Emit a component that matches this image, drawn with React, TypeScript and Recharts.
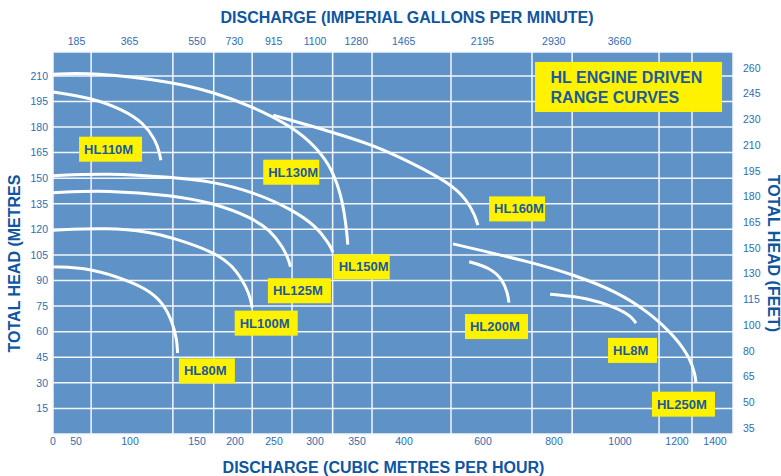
import {
    LineChart,
    Line,
    XAxis,
    YAxis,
    CartesianGrid,
    ReferenceDot,
} from "recharts";

// discharge axis ticks (m3/h) and top axis ticks (imperial gallons per minute)
const BOTTOM_TICKS = [0, 50, 100, 150, 200, 250, 300, 350, 400, 600, 800, 1000, 1200, 1400];
const TOP_TICKS_IGPM = [185, 365, 550, 730, 915, 1100, 1280, 1465, 2195, 2930, 3660];
const GRID_FLOWS = [64, 132, 172, 222, 272, 321, 366, 519, 738, 855, 1137, 1279];

// head in metres (left) and feet labels (right)
const LEFT_TICKS = [15, 30, 45, 60, 75, 90, 105, 120, 135, 150, 165, 180, 195, 210];
const RIGHT_LABELS = [35, 50, 65, 80, 100, 115, 130, 150, 165, 180, 195, 210, 230, 245, 260];

// curves: flow (m3/h) / total head (m)
const HL150M_FLOW = [0, 65, 132, 171, 223, 273, 302, 321, 333, 338, 339];
const HL150M_HEAD = [211, 212, 206.5, 200.5, 192, 180, 168, 155, 137, 118, 111];
const HL110M_FLOW = [0, 65, 94, 110, 119, 122, 123];
const HL110M_HEAD = [200.5, 197, 190, 182.5, 172.5, 165, 160.5];
const HL130M_FLOW = [0, 79, 132, 171, 223, 273, 302, 316, 320, 321];
const HL130M_HEAD = [151.5, 153, 150.5, 148, 142, 131.5, 121.5, 112, 108.5, 106.5];
const HL125M_FLOW = [0, 79, 132, 171, 221, 245, 261, 268, 270];
const HL125M_HEAD = [141.5, 143, 140, 135.5, 127, 119.5, 109.5, 102, 98];
const HL100M_FLOW = [0, 79, 115, 132, 171, 197, 215, 220, 222];
const HL100M_HEAD = [119.5, 121, 118.5, 115, 107, 99, 86, 79, 74];
const HL80M_FLOW = [0, 63, 102, 115, 125, 132, 135, 135.5];
const HL80M_HEAD = [98, 97.5, 89, 83.5, 76.5, 65, 55, 47.5];
const HL160M_FLOW = [249, 321, 367, 415, 517, 560, 580, 587];
const HL160M_HEAD = [187, 177, 169.5, 159.5, 147, 137, 128, 122.5];
const HL250M_FLOW = [524, 732, 858, 991, 1105, 1200, 1270, 1295, 1300];
const HL250M_HEAD = [111.5, 101, 93.5, 83.5, 71, 56, 44, 35, 30];
const HL200M_FLOW = [565, 620, 656, 670, 673];
const HL200M_HEAD = [101, 97.5, 90.5, 82, 77];
const HL8M_FLOW = [789, 900, 991, 1040, 1056];
const HL8M_HEAD = [82, 80, 74, 69, 65];

// model tags: name, flow, head at the tag centre
const TAG_NAMES = ["HL110M", "HL130M", "HL150M", "HL125M", "HL100M", "HL80M", "HL160M", "HL200M", "HL8M", "HL250M"];
const TAG_FLOW = [82, 271, 355, 281, 240, 163, 696, 638, 1044, 1234];
const TAG_HEAD = [167, 153.5, 98, 84, 65, 37, 132, 63, 49, 17.5];
const TAG_WIDTH = [63, 56, 56, 63, 63, 56, 56, 63, 49, 63];

// the printed discharge axis is not linear: tick value -> distance along the axis (px)
const FLOW_KNOTS = [0, 50, 100, 150, 200, 250, 300, 350, 400, 600, 800, 1000, 1200, 1400, 1500];
const AXIS_POS = [0, 23, 77, 144, 182, 221, 262, 304, 351, 430, 501, 567, 624, 662, 681];

const warp = (flow: number) => {
    for (let i = 1; i < FLOW_KNOTS.length; i++) {
        if (flow <= FLOW_KNOTS[i]) {
            const t = (flow - FLOW_KNOTS[i - 1]) / (FLOW_KNOTS[i] - FLOW_KNOTS[i - 1]);
            return AXIS_POS[i - 1] + t * (AXIS_POS[i] - AXIS_POS[i - 1]);
        }
    }
    return AXIS_POS[AXIS_POS.length - 1];
};

const IGPM_PER_M3H = 3.666;

const toPoints = (flow: number[], head: number[]) =>
    flow.map((f, i) => ({ x: warp(f), head: head[i] }));

const series = [
    toPoints(HL150M_FLOW, HL150M_HEAD),
    toPoints(HL110M_FLOW, HL110M_HEAD),
    toPoints(HL130M_FLOW, HL130M_HEAD),
    toPoints(HL125M_FLOW, HL125M_HEAD),
    toPoints(HL100M_FLOW, HL100M_HEAD),
    toPoints(HL80M_FLOW, HL80M_HEAD),
    toPoints(HL160M_FLOW, HL160M_HEAD),
    toPoints(HL250M_FLOW, HL250M_HEAD),
    toPoints(HL200M_FLOW, HL200M_HEAD),
    toPoints(HL8M_FLOW, HL8M_HEAD),
];

// invisible helper data so the top, grid and feet axes get registered
const feetPoints = RIGHT_LABELS.map((_, i) => ({ x: 0, idx: i }));

const FONT = '"Liberation Sans", Arial, sans-serif';
const TITLE_BLUE = "#0f559f";
const TICK_BLUE = "#2e6db3";
const PLOT_BLUE = "#5f93c7";
const YELLOW = "#fff200";

const bottomTicks = BOTTOM_TICKS.map(warp);
const topTicks = TOP_TICKS_IGPM.map((g) => warp(g / IGPM_PER_M3H));
const gridTicks = GRID_FLOWS.map(warp);

const nearest = (ticks: number[], labels: number[], v: number) => {
    let best = 0;
    ticks.forEach((t, i) => {
        if (Math.abs(t - v) < Math.abs(ticks[best] - v)) best = i;
    });
    return String(labels[best]);
};

const tickStyle = { fill: TICK_BLUE, fontSize: 10.5, fontFamily: FONT };
const titleStyle = { fill: TITLE_BLUE, fontSize: 16, fontWeight: 700, fontFamily: FONT };

function Tag(props: any) {
    const { cx, cy, name, w } = props;
    return (
        <g>
            <rect x={cx - w / 2} y={cy - 12.5} width={w} height={25} fill={YELLOW} />
            <text
                x={cx - w / 2 + 5}
                y={cy + 4.5}
                fill="#1b5a9d"
                fontSize={13}
                fontWeight={700}
                fontFamily={FONT}
            >
                {name}
            </text>
        </g>
    );
}

function TitleBox(props: any) {
    const { cx, cy } = props;
    return (
        <g>
            <rect x={cx - 93.5} y={cy - 25} width={187} height={50} fill={YELLOW} />
            <text x={cx - 78} y={cy - 4} fill="#1b5a9d" fontSize={16} fontWeight={700} fontFamily={FONT}>
                HL ENGINE DRIVEN
            </text>
            <text x={cx - 78} y={cy + 16} fill="#1b5a9d" fontSize={16} fontWeight={700} fontFamily={FONT}>
                RANGE CURVES
            </text>
        </g>
    );
}

export default function App() {
    return (
        <div style={{ position: "absolute", left: 0, top: 0, background: "#fff" }}>
            <LineChart
                width={781}
                height={476}
                margin={{ top: 27, right: 13, bottom: 17, left: 18 }}
            >
                <CartesianGrid
                    xAxisId="grid"
                    yAxisId="left"
                    fill={PLOT_BLUE}
                    fillOpacity={1}
                    stroke="#f2f6fb"
                    strokeWidth={1.5}
                />
                <XAxis
                    xAxisId="grid"
                    type="number"
                    dataKey="x"
                    domain={[0, 680]}
                    ticks={gridTicks}
                    interval={0}
                    hide
                />
                <XAxis
                    xAxisId={0}
                    type="number"
                    dataKey="x"
                    domain={[0, 680]}
                    ticks={bottomTicks}
                    interval={0}
                    height={25}
                    axisLine={false}
                    tickLine={false}
                    tickSize={0}
                    tickMargin={4}
                    tick={tickStyle}
                    tickFormatter={(v: number) => nearest(bottomTicks, BOTTOM_TICKS, v)}
                    label={{
                        content: () => (
                            <text x={383.5} y={472.5} textAnchor="middle" {...titleStyle}>
                                DISCHARGE (CUBIC METRES PER HOUR)
                            </text>
                        ),
                    }}
                />
                <XAxis
                    xAxisId="top"
                    orientation="top"
                    type="number"
                    dataKey="x"
                    domain={[0, 680]}
                    ticks={topTicks}
                    interval={0}
                    height={25}
                    axisLine={false}
                    tickLine={false}
                    tickSize={0}
                    tickMargin={7}
                    tick={tickStyle}
                    tickFormatter={(v: number) => nearest(topTicks, TOP_TICKS_IGPM, v)}
                    label={{
                        content: () => (
                            <text x={407} y={23} textAnchor="middle" {...titleStyle}>
                                DISCHARGE (IMPERIAL GALLONS PER MINUTE)
                            </text>
                        ),
                    }}
                />
                <YAxis
                    yAxisId="left"
                    type="number"
                    domain={[0, 224]}
                    ticks={LEFT_TICKS}
                    interval={0}
                    width={35}
                    axisLine={false}
                    tickLine={false}
                    tickSize={0}
                    tickMargin={5}
                    tick={tickStyle}
                    label={{
                        content: () => (
                            <text
                                x={20}
                                y={263.5}
                                textAnchor="middle"
                                transform="rotate(-90 20 263.5)"
                                {...titleStyle}
                            >
                                TOTAL HEAD (METRES
                            </text>
                        ),
                    }}
                />
                <YAxis
                    yAxisId="right"
                    orientation="right"
                    type="number"
                    domain={[-0.23, 14.62]}
                    allowDataOverflow
                    ticks={RIGHT_LABELS.map((_, i) => i)}
                    interval={0}
                    width={35}
                    axisLine={false}
                    tickLine={false}
                    tickSize={0}
                    tickMargin={10}
                    tick={tickStyle}
                    tickFormatter={(i: number) => String(RIGHT_LABELS[Math.round(i)])}
                    label={{
                        content: () => (
                            <text
                                x={768}
                                y={253.5}
                                textAnchor="middle"
                                transform="rotate(90 768 253.5)"
                                {...titleStyle}
                            >
                                TOTAL HEAD (FEET)
                            </text>
                        ),
                    }}
                />
                <Line
                    data={feetPoints}
                    dataKey="idx"
                    xAxisId="top"
                    yAxisId="right"
                    stroke="none"
                    dot={false}
                    activeDot={false}
                    isAnimationActive={false}
                />
                <Line
                    data={series[0]}
                    dataKey="head"
                    xAxisId="grid"
                    yAxisId="left"
                    stroke="none"
                    dot={false}
                    activeDot={false}
                    isAnimationActive={false}
                />
                {series.map((pts, i) => (
                    <Line
                        key={i}
                        data={pts}
                        dataKey="head"
                        xAxisId={0}
                        yAxisId="left"
                        type="basis"
                        stroke="#ffffff"
                        strokeWidth={3}
                        dot={false}
                        activeDot={false}
                        isAnimationActive={false}
                    />
                ))}
                {TAG_NAMES.map((name, i) => (
                    <ReferenceDot
                        key={name}
                        x={warp(TAG_FLOW[i])}
                        y={TAG_HEAD[i]}
                        xAxisId={0}
                        yAxisId="left"
                        r={0}
                        ifOverflow="visible"
                        shape={(p: any) => <Tag {...p} name={name} w={TAG_WIDTH[i]} />}
                    />
                ))}
                <ReferenceDot
                    x={warp(1030)}
                    y={203.5}
                    xAxisId={0}
                    yAxisId="left"
                    r={0}
                    ifOverflow="visible"
                    shape={(p: any) => <TitleBox {...p} />}
                />
            </LineChart>
        </div>
    );
}
